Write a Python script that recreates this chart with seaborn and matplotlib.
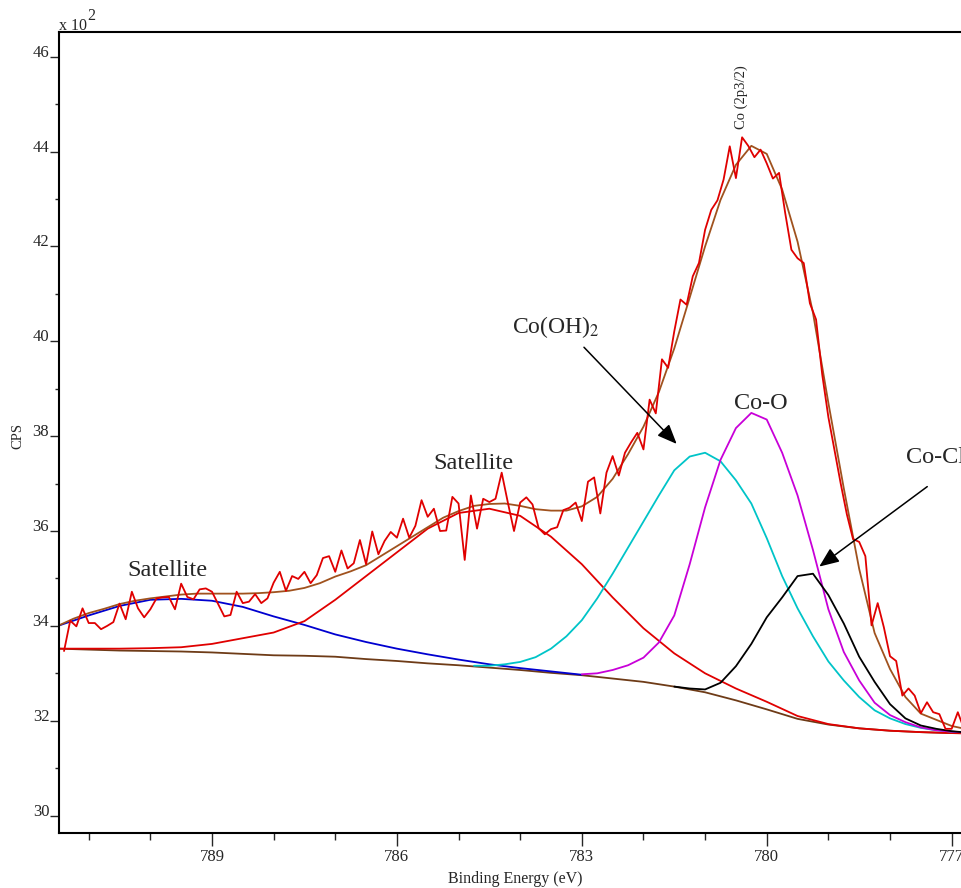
import numpy as np
import pandas as pd
import matplotlib
matplotlib.use("Agg")
import matplotlib.pyplot as plt
from matplotlib.ticker import MultipleLocator
import seaborn as sns

# ---- data (CPS in units of 10^2, binding energy in eV) ----
# raw spectrum, 0.1 eV steps starting at 791.4 eV
raw_start = 791.4
raw_cps = [
    33.47, 34.11, 33.99, 34.37, 34.06, 34.06, 33.93, 34.00, 34.08, 34.47,
    34.14, 34.72, 34.37, 34.18, 34.35, 34.58, 34.60, 34.61, 34.35, 34.89,
    34.61, 34.56, 34.77, 34.79, 34.72, 34.46, 34.20, 34.23, 34.72, 34.48,
    34.51, 34.67, 34.48, 34.58, 34.91, 35.14, 34.74, 35.05, 34.99, 35.14,
    34.90, 35.07, 35.43, 35.47, 35.14, 35.59, 35.21, 35.32, 35.81, 35.30,
    35.99, 35.51, 35.79, 35.98, 35.86, 36.26, 35.86, 36.11, 36.65, 36.30,
    36.47, 36.00, 36.01, 36.72, 36.58, 35.39, 36.75, 36.05, 36.68, 36.61,
    36.68, 37.23, 36.60, 36.00, 36.60, 36.71, 36.56, 36.06, 35.93, 36.04,
    36.08, 36.44, 36.49, 36.60, 36.21, 37.04, 37.13, 36.37, 37.23, 37.58,
    37.17, 37.65, 37.87, 38.07, 37.72, 38.77, 38.48, 39.62, 39.44, 40.21,
    40.88, 40.77, 41.37, 41.65, 42.35, 42.77, 42.97, 43.41, 44.11, 43.44,
    44.30, 44.12, 43.88, 44.04, 43.75, 43.43, 43.55, 42.70, 41.93, 41.75,
    41.65, 40.80, 40.46, 39.30, 38.40, 37.70, 37.00, 36.35, 35.83, 35.77,
    35.47, 34.01, 34.48, 33.97, 33.36, 33.26, 32.53, 32.68, 32.53, 32.16,
    32.39, 32.18, 32.14, 31.83, 31.83, 32.18, 31.83,
]

# background, 0.5 eV steps from 791.5
bg_start = 791.5
background = [
    33.52, 33.50, 33.48, 33.47, 33.46, 33.44, 33.41, 33.38, 33.37, 33.35,
    33.30, 33.26, 33.21, 33.17, 33.12, 33.07, 33.01, 32.96, 32.89, 32.82,
    32.72, 32.60, 32.43, 32.24, 32.04, 31.92, 31.84, 31.79, 31.76, 31.74,
    31.73,
]

# satellite 1 (blue), 0.5 eV steps from 791.5
sat1_start = 791.5
satellite1 = [
    34.00, 34.22, 34.42, 34.55, 34.57, 34.53, 34.40, 34.20, 34.02, 33.82,
    33.66, 33.52, 33.40, 33.29, 33.19, 33.11, 33.04, 32.97,
]

# satellite 2 (red), 0.5 eV steps from 791.5
sat2_start = 791.5
satellite2 = [
    33.52, 33.52, 33.52, 33.53, 33.55, 33.62, 33.74, 33.86, 34.10, 34.55,
    35.05, 35.55, 36.05, 36.38, 36.47, 36.32, 35.88, 35.30, 34.60, 33.95,
    33.42, 33.00, 32.68, 32.40, 32.10, 31.93, 31.84, 31.79, 31.76, 31.74,
    31.73,
]

# Co(OH)2 (cyan), 0.25 eV steps from 784.75
coh_start = 784.75
co_oh2 = [
    33.16, 33.16, 33.19, 33.24, 33.34, 33.52, 33.78, 34.12, 34.58, 35.10,
    35.65, 36.20, 36.75, 37.28, 37.57, 37.65, 37.47, 37.07, 36.58, 35.85,
    35.05, 34.37, 33.78, 33.25, 32.85, 32.50, 32.22, 32.05, 31.93, 31.85,
    31.80, 31.77, 31.75, 31.74,
]

# Co-O (magenta), 0.25 eV steps from 783.0
coo_start = 783.0
co_o = [
    32.98, 33.00, 33.07, 33.17, 33.33, 33.65, 34.22, 35.30, 36.50, 37.50,
    38.17, 38.49, 38.35, 37.65, 36.75, 35.60, 34.35, 33.45, 32.85, 32.38,
    32.12, 31.97, 31.86, 31.80, 31.77, 31.75, 31.74,
]

# Co-Cl (black), 0.25 eV steps from 781.5
cocl_start = 781.5
co_cl = [
    32.72, 32.68, 32.66, 32.80, 33.15, 33.62, 34.18, 34.60, 35.05,
    35.10, 34.65, 34.05, 33.35, 32.82, 32.35, 32.05, 31.90, 31.83, 31.78,
    31.75, 31.74,
]

# envelope (brown), 0.25 eV steps from 791.5
env_start = 791.5
envelope = [
    34.00, 34.15, 34.27, 34.36, 34.46, 34.53, 34.58, 34.62, 34.66, 34.68,
    34.68, 34.68, 34.68, 34.69, 34.71, 34.74, 34.80, 34.90, 35.04, 35.15,
    35.28, 35.48, 35.68, 35.88, 36.08, 36.28, 36.42, 36.53, 36.57, 36.58,
    36.53, 36.46, 36.43, 36.43, 36.52, 36.72, 37.10, 37.62, 38.20, 38.93,
    39.85, 40.92, 42.00, 42.98, 43.72, 44.12, 43.95, 43.20, 42.10, 40.60,
    38.70, 36.90, 35.20, 33.85, 33.09, 32.50, 32.15, 32.02, 31.89, 31.82,
    31.78,
]


def grid(start, step, values):
    # energies of an evenly sampled series (descending binding energy)
    return np.round(start - step * np.arange(len(values)), 2)


curves = [
    ("background", bg_start, 0.5, background, "#6e3b17"),
    ("satellite1", sat1_start, 0.5, satellite1, "#0000d0"),
    ("satellite2", sat2_start, 0.5, satellite2, "#e00000"),
    ("co_oh2", coh_start, 0.25, co_oh2, "#00c4c8"),
    ("co_o", coo_start, 0.25, co_o, "#c800d8"),
    ("co_cl", cocl_start, 0.25, co_cl, "#000000"),
    ("envelope", env_start, 0.25, envelope, "#a0521e"),
]

sns.set_style("ticks")
plt.rcParams["font.family"] = ["Liberation Serif", "DejaVu Serif"]
plt.rcParams["mathtext.fontset"] = "stix"

fig = plt.figure(figsize=(9.61, 8.88), dpi=100)
W, H = 961, 888
# axes spans px 59.3..990 horizontally (right part is cut off), 32..832.7 vertically
ax = fig.add_axes([59.3 / W, (H - 832.7) / H, (990 - 59.3) / W, (832.7 - 32) / H])

for name, st, step, vals, col in curves:
    df = pd.DataFrame({"energy": grid(st, step, vals), "cps": vals})
    sns.lineplot(data=df, x="energy", y="cps", ax=ax, color=col, lw=1.3,
                 sort=False, estimator=None)

raw_df = pd.DataFrame({"energy": grid(raw_start, 0.1, raw_cps), "cps": raw_cps})
sns.lineplot(data=raw_df, x="energy", y="cps", ax=ax, color="#e00000", lw=1.3,
             sort=False, estimator=None)

ax.set_xlim(791.477, 776.378)
ax.set_ylim(29.64, 46.52)
ax.set_xlabel("")
ax.set_ylabel("")

ax.xaxis.set_minor_locator(MultipleLocator(1))
ax.yaxis.set_minor_locator(MultipleLocator(1))
ax.set_yticks(np.arange(30, 47, 2))
ax.set_yticklabels([str(v) for v in range(30, 47, 2)], va="baseline")
ax.set_xticks([789, 786, 783, 780, 777])
ax.set_xticklabels(["789", "786", "783", "780", "777"])

ax.tick_params(axis="x", which="major", direction="out", length=9.4, width=1, pad=2, labelsize=12)
ax.tick_params(axis="x", which="minor", direction="out", length=5.3, width=1)
ax.tick_params(axis="y", which="major", direction="out", length=6.2, width=1, pad=1, labelsize=12)
ax.tick_params(axis="y", which="minor", direction="out", length=3.1, width=1)
ax.tick_params(top=False, right=False, which="both")

for sp in ax.spines.values():
    sp.set_linewidth(1.5)
    sp.set_color("black")

# labels on the figure
fig.text(59 / W, 1 - 30 / H, "x 10", fontsize=11.5, ha="left", va="baseline")
fig.text(87 / W, 1 - 20 / H, "2", fontsize=11.5, ha="left", va="baseline")
fig.text(18 / W, 1 - 436 / H, "CPS", fontsize=10.5, rotation=90, ha="center", va="center")
fig.text(583 / W, 1 - 871 / H, "Binding Energy (eV)", fontsize=11.5, ha="right", va="top")

# peak annotations
ax.text(780.418, 44.47, "Co (2p3/2)", rotation=90, fontsize=10.5, ha="center", va="bottom")
ax.text(789.73, 35.05, "Satellite", fontsize=17.5, ha="center", va="baseline")
ax.text(784.76, 37.30, "Satellite", fontsize=17.5, ha="center", va="baseline")
ax.text(780.09, 38.57, "Co-O", fontsize=17.5, ha="center", va="baseline")
ax.text(777.74, 37.44, "Co-Cl", fontsize=17.5, ha="left", va="baseline")
ax.text(783.42, 40.17, r"Co(OH)$_2$", fontsize=17, ha="center", va="baseline")

arrow = dict(arrowstyle="-|>,head_length=0.6,head_width=0.25", color="black",
             lw=1.1, mutation_scale=20, shrinkA=0, shrinkB=0)
ax.annotate("", xy=(781.461, 37.836), xytext=(782.965, 39.874), arrowprops=arrow)
ax.annotate("", xy=(779.148, 35.25), xytext=(777.396, 36.936), arrowprops=arrow)

fig.savefig("out.png", dpi=100)
